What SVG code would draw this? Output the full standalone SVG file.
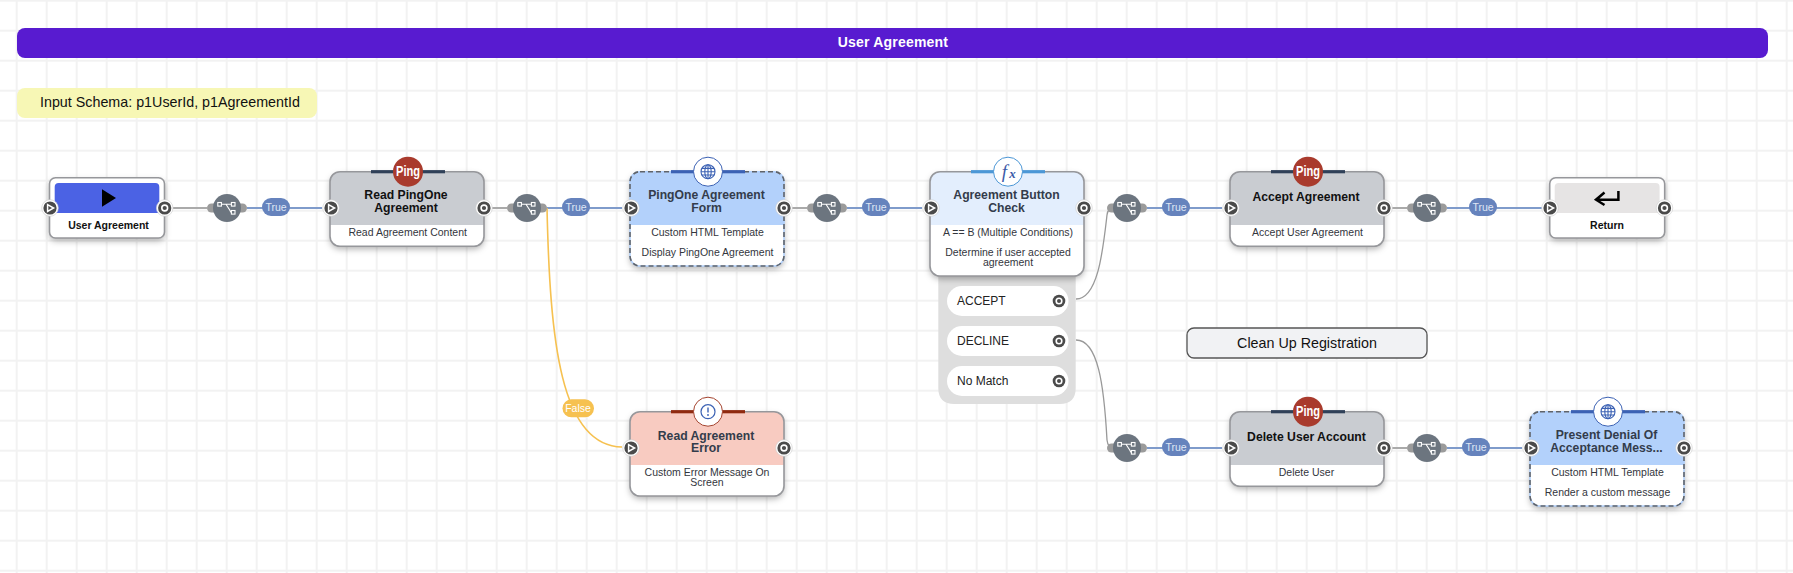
<svg xmlns="http://www.w3.org/2000/svg" width="1793" height="573" viewBox="0 0 1793 573">
<style>
text{font-family:"Liberation Sans",Arial,sans-serif}
.c{text-anchor:middle}
.title{font-size:12.2px;font-weight:700;fill:#333c4b;text-anchor:middle}
.dark{fill:#111}
.sub{font-size:10.5px;fill:#33363d;text-anchor:middle}
.small{font-size:10.5px;font-weight:700;fill:#111;text-anchor:middle}
.opt{font-size:12px;fill:#222}
.tl{font-size:10.5px;fill:#dfe6f5;text-anchor:middle}
.border{fill:none;stroke:#96979b;stroke-width:1.6}
.dash{fill:none;stroke:#5f6369;stroke-width:1.6;stroke-dasharray:5 3}
.wire{fill:none;stroke:#aaa;stroke-width:2}
.blue{fill:none;stroke:#7f9bcb;stroke-width:2}
.curve{fill:none;stroke:#999;stroke-width:1.3}
.pill{fill:#6683bd}
.ping{font-size:14px;font-weight:700;fill:#fff;text-anchor:middle}
</style>
<defs>
<pattern id="grid" width="30" height="30" patternUnits="userSpaceOnUse" patternTransform="translate(15.7 -0.3)">
<path d="M1 0V30M0 1H30" fill="none" stroke="#f2f2f2" stroke-width="2"/>
</pattern>
<filter id="sh" x="-15%" y="-15%" width="130%" height="140%">
<feDropShadow dx="0" dy="3" stdDeviation="3" flood-color="#000" flood-opacity=".3"/>
</filter>
<g id="pin">
<circle r="8.3" fill="#fff" stroke="#ccc" stroke-width=".6"/><circle r="6.6" fill="#4a4a4a"/>
<path d="M-2.4-3.4L3.6 0L-2.4 3.4Z" fill="none" stroke="#fff" stroke-width="1.5"/>
</g>
<g id="pout">
<circle r="8.3" fill="#fff" stroke="#ccc" stroke-width=".6"/><circle r="6.6" fill="#4a4a4a"/>
<circle r="2.9" fill="none" stroke="#fff" stroke-width="1.6"/>
</g>
<g id="popt">
<circle r="6.3" fill="#4a4a4a"/>
<circle r="2.8" fill="none" stroke="#fff" stroke-width="1.6"/>
</g>
<g id="gate">
<rect x="-20" y="-4.500" width="40" height="9" rx="4.500" fill="#9b9b9b"/>
<circle r="14" fill="#6c757f"/>
<path d="M-6-3.700H4.500M-1-3.700L3 2.500Q3.600 4.300 4.500 4.300" fill="none" stroke="#fff" stroke-width="1.100"/>
<rect x="-9.200" y="-5.500" width="3.600" height="3.600" fill="#6c757f" stroke="#fff" stroke-width="1.100"/>
<rect x="4.400" y="-5.500" width="3.600" height="3.600" fill="#6c757f" stroke="#fff" stroke-width="1.100"/>
<rect x="4.400" y="2.500" width="3.600" height="3.600" fill="#6c757f" stroke="#fff" stroke-width="1.100"/>
</g>
<g id="pingIcon">
<rect x="-37" y="-1.600" width="74" height="3.200" fill="#2f4058"/>
<circle r="15" fill="#a93b2d"/>
<text class="ping" y="4.500" textLength="24" lengthAdjust="spacingAndGlyphs">Ping</text>
</g>
<g id="globe">
<rect x="-37" y="-1.600" width="74" height="3.200" fill="#3c62b4"/>
<circle r="14.500" fill="#fff" stroke="#3c62b4" stroke-width="1"/>
<g fill="none" stroke="#3c62b4" stroke-width="1.100">
<circle r="7"/><ellipse rx="3.200" ry="7"/><path d="M0-7V7M-7 0H7M-6.200-3.300H6.200M-6.200 3.300H6.200"/>
</g>
</g>
<rect id="truePill" x="-14" y="-9" width="28" height="18" rx="9" class="pill"/>
</defs>

<rect width="1793" height="573" fill="#fff"/>
<rect width="1793" height="573" fill="url(#grid)"/>

<g id="banner">
<rect x="17" y="28" width="1751" height="30" rx="8" fill="#581bd0"/>
<text x="893" y="46.500" class="c" font-size="14" font-weight="700" fill="#fff" letter-spacing=".2">User Agreement</text>
</g>
<g id="input-schema">
<rect x="17" y="88" width="300" height="30" rx="8" fill="#f7f7b5"/>
<text x="40" y="107" font-size="14.300" fill="#111">Input Schema: p1UserId, p1AgreementId</text>
</g>
<g id="clean-up">
<rect x="1187" y="328" width="240" height="30" rx="7" fill="#f1f2f4" stroke="#555" stroke-width="1.300"/>
<text x="1307" y="347.500" class="c" font-size="14.300" fill="#111">Clean Up Registration</text>
</g>

<g id="connectors">
<path class="wire" d="M171 208H207"/><path class="blue" d="M247 208H322"/>
<path class="wire" d="M491 208H507"/><path class="blue" d="M547 208H622"/>
<path class="wire" d="M791 208H807"/><path class="blue" d="M847 208H922"/>
<path class="blue" d="M1147 208H1222"/>
<path class="wire" d="M1391 208H1407"/><path class="blue" d="M1447 208H1542"/>
<path class="blue" d="M1147 448H1222"/>
<path class="wire" d="M1391 448H1407"/><path class="blue" d="M1447 448H1522"/>
<path d="M547 208C550 340 560 446 622 447" fill="none" stroke="#f6c150" stroke-width="1.600"/>
<path class="curve" d="M1076 299C1098 299 1103 250 1107 215Q1108 208 1113 208"/>
<path class="curve" d="M1076 340C1098 340 1104 385 1107 440Q1108 448 1113 448"/>
<use href="#gate" x="227" y="208"/>
<use href="#truePill" x="276" y="207"/><text class="tl" x="276" y="211">True</text>
<use href="#gate" x="527" y="208"/>
<use href="#truePill" x="576" y="207"/><text class="tl" x="576" y="211">True</text>
<use href="#gate" x="827" y="208"/>
<use href="#truePill" x="876" y="207"/><text class="tl" x="876" y="211">True</text>
<use href="#gate" x="1127" y="208"/>
<use href="#truePill" x="1176" y="207"/><text class="tl" x="1176" y="211">True</text>
<use href="#gate" x="1427" y="208"/>
<use href="#truePill" x="1483" y="207"/><text class="tl" x="1483" y="211">True</text>
<use href="#gate" x="1127" y="448"/>
<use href="#truePill" x="1176" y="447"/><text class="tl" x="1176" y="451">True</text>
<use href="#gate" x="1427" y="448"/>
<use href="#truePill" x="1476" y="447"/><text class="tl" x="1476" y="451">True</text>
<rect x="562.500" y="399.300" width="31.500" height="18" rx="9" fill="#f6c150"/>
<text class="c" x="578" y="411.500" font-size="10.500" fill="#fff">False</text>
</g>

<g id="node-start">
<rect x="49.500" y="177.700" width="115" height="60.300" rx="6" fill="#fff" filter="url(#sh)"/>
<rect x="49.500" y="177.700" width="115" height="60.300" rx="6" class="border"/>
<path d="M54.700 213V187Q54.700 183 58.700 183H155.300Q159.300 183 159.300 187V213Z" fill="#4b62e4"/>
<path d="M102 189.300L116 198L102 206.700Z" fill="#000"/>
<text class="small" x="108.500" y="229">User Agreement</text>
<use href="#pin" x="50" y="208"/><use href="#pout" x="164.700" y="208"/>
</g>

<g id="node-read-agreement">
<rect x="330" y="171.700" width="154" height="74.600" rx="10" fill="#fff" filter="url(#sh)"/>
<path d="M330 225V181.700Q330 171.700 340 171.700H474Q484 171.700 484 181.700V225Z" fill="#c9ccd1"/>
<rect x="330" y="171.700" width="154" height="74.600" rx="10" class="border"/>
<use href="#pingIcon" x="408" y="171.700"/>
<text class="title dark" x="406" y="199.300">Read PingOne</text>
<text class="title dark" x="406" y="211.700">Agreement</text>
<text class="sub" x="407.700" y="235.700">Read Agreement Content</text>
<use href="#pin" x="331" y="208"/><use href="#pout" x="484" y="208"/>
</g>

<g id="node-agreement-form">
<rect x="630" y="171.700" width="154" height="94.300" rx="10" fill="#fff" filter="url(#sh)"/>
<path d="M630 225V181.700Q630 171.700 640 171.700H774Q784 171.700 784 181.700V225Z" fill="#b3d1fb"/>
<rect x="630" y="171.700" width="154" height="94.300" rx="10" fill="none" stroke="#b3d1fb" stroke-width="1.600"/>
<rect x="630" y="171.700" width="154" height="94.300" rx="10" class="dash"/>
<use href="#globe" x="708" y="171.700"/>
<text class="title" x="706.500" y="199.300">PingOne Agreement</text>
<text class="title" x="706.500" y="211.700">Form</text>
<text class="sub" x="707.500" y="235.700">Custom HTML Template</text>
<text class="sub" x="707.500" y="256">Display PingOne Agreement</text>
<use href="#pin" x="631" y="208"/><use href="#pout" x="784" y="208"/>
</g>

<g id="node-button-check">
<path d="M938.300 270H1075.700V388Q1075.700 404 1059.700 404H954.300Q938.300 404 938.300 388Z" fill="#dedede"/>
<rect x="947" y="286" width="121.500" height="30" rx="15" fill="#fff"/>
<rect x="947" y="326" width="121.500" height="30" rx="15" fill="#fff"/>
<rect x="947" y="366" width="121.500" height="30" rx="15" fill="#fff"/>
<text class="opt" x="957" y="305">ACCEPT</text>
<text class="opt" x="957" y="345">DECLINE</text>
<text class="opt" x="957" y="385">No Match</text>
<use href="#popt" x="1059" y="301"/><use href="#popt" x="1059" y="341"/><use href="#popt" x="1059" y="381"/>
<rect x="930" y="171.700" width="154" height="104.300" rx="10" fill="#fff" filter="url(#sh)"/>
<path d="M930 225V181.700Q930 171.700 940 171.700H1074Q1084 171.700 1084 181.700V225Z" fill="#e3eefd"/>
<rect x="930" y="171.700" width="154" height="104.300" rx="10" class="border"/>
<rect x="971" y="170.100" width="74" height="3.200" fill="#4c97d6"/>
<circle cx="1008" cy="171.700" r="14.500" fill="#fff" stroke="#4c97d6" stroke-width="1"/>
<text x="1004.500" y="177.500" class="c" font-size="19" font-style="italic" fill="#3c5aa8" style="font-family:'Liberation Serif',serif">f</text>
<text x="1012.500" y="178" class="c" font-size="13" font-weight="700" font-style="italic" fill="#3c5aa8" style="font-family:'Liberation Serif',serif">x</text>
<text class="title" x="1006.500" y="199.300">Agreement Button</text>
<text class="title" x="1006.500" y="211.700">Check</text>
<text class="sub" x="1008" y="235.700">A == B (Multiple Conditions)</text>
<text class="sub" x="1008" y="256">Determine if user accepted</text>
<text class="sub" x="1008" y="266">agreement</text>
<use href="#pin" x="931" y="208"/><use href="#pout" x="1084" y="208"/>
</g>

<g id="node-accept">
<rect x="1230" y="171.700" width="154" height="74.600" rx="10" fill="#fff" filter="url(#sh)"/>
<path d="M1230 225V181.700Q1230 171.700 1240 171.700H1374Q1384 171.700 1384 181.700V225Z" fill="#c9ccd1"/>
<rect x="1230" y="171.700" width="154" height="74.600" rx="10" class="border"/>
<use href="#pingIcon" x="1308" y="171.700"/>
<text class="title dark" x="1306" y="201">Accept Agreement</text>
<text class="sub" x="1307.500" y="235.700">Accept User Agreement</text>
<use href="#pin" x="1231" y="208"/><use href="#pout" x="1384" y="208"/>
</g>

<g id="node-return">
<rect x="1549.700" y="177.700" width="115" height="60.300" rx="6" fill="#fff" filter="url(#sh)"/>
<rect x="1549.700" y="177.700" width="115" height="60.300" rx="6" class="border"/>
<path d="M1554.700 213V187Q1554.700 183 1558.700 183H1655.600Q1659.600 183 1659.600 187V213Z" fill="#e6e4e4"/>
<path d="M1618.400 191V199.700H1596.500M1604.500 192.500L1596 199.700L1604.500 205" fill="none" stroke="#000" stroke-width="2.500"/>
<text class="small" x="1607" y="229">Return</text>
<use href="#pin" x="1550" y="208"/><use href="#pout" x="1664.500" y="208"/>
</g>

<g id="node-error">
<rect x="630" y="411.700" width="154" height="84.300" rx="10" fill="#fff" filter="url(#sh)"/>
<path d="M630 465V421.700Q630 411.700 640 411.700H774Q784 411.700 784 421.700V465Z" fill="#f8cbc1"/>
<rect x="630" y="411.700" width="154" height="84.300" rx="10" class="border"/>
<rect x="671" y="410.100" width="74" height="3.200" fill="#8f2a10"/>
<circle cx="708" cy="411.700" r="14.500" fill="#fff" stroke="#a5442f" stroke-width="1"/>
<circle cx="708" cy="411.700" r="7" fill="none" stroke="#3c62b4" stroke-width="1.200"/>
<path d="M708 407.500V412.500" stroke="#3c62b4" stroke-width="1.400"/><circle cx="708" cy="415" r=".9" fill="#3c62b4"/>
<text class="title" x="706" y="439.700">Read Agreement</text>
<text class="title" x="706" y="452">Error</text>
<text class="sub" x="707" y="476">Custom Error Message On</text>
<text class="sub" x="707" y="486">Screen</text>
<use href="#pin" x="631" y="448"/><use href="#pout" x="784" y="448"/>
</g>

<g id="node-delete">
<rect x="1230" y="411.700" width="154" height="74.600" rx="10" fill="#fff" filter="url(#sh)"/>
<path d="M1230 465V421.700Q1230 411.700 1240 411.700H1374Q1384 411.700 1384 421.700V465Z" fill="#c9ccd1"/>
<rect x="1230" y="411.700" width="154" height="74.600" rx="10" class="border"/>
<use href="#pingIcon" x="1308" y="411.700"/>
<text class="title dark" x="1306.500" y="441">Delete User Account</text>
<text class="sub" x="1306.500" y="475.700">Delete User</text>
<use href="#pin" x="1231" y="448"/><use href="#pout" x="1384" y="448"/>
</g>

<g id="node-denial">
<rect x="1530" y="411.700" width="154" height="94.300" rx="10" fill="#fff" filter="url(#sh)"/>
<path d="M1530 465V421.700Q1530 411.700 1540 411.700H1674Q1684 411.700 1684 421.700V465Z" fill="#b3d1fb"/>
<rect x="1530" y="411.700" width="154" height="94.300" rx="10" fill="none" stroke="#b3d1fb" stroke-width="1.600"/>
<rect x="1530" y="411.700" width="154" height="94.300" rx="10" class="dash"/>
<use href="#globe" x="1608" y="411.700"/>
<text class="title" x="1606.500" y="439.300">Present Denial Of</text>
<text class="title" x="1606.500" y="451.700">Acceptance Mess...</text>
<text class="sub" x="1607.500" y="475.700">Custom HTML Template</text>
<text class="sub" x="1607.500" y="496">Render a custom message</text>
<use href="#pin" x="1531" y="448"/><use href="#pout" x="1684" y="448"/>
</g>
</svg>
